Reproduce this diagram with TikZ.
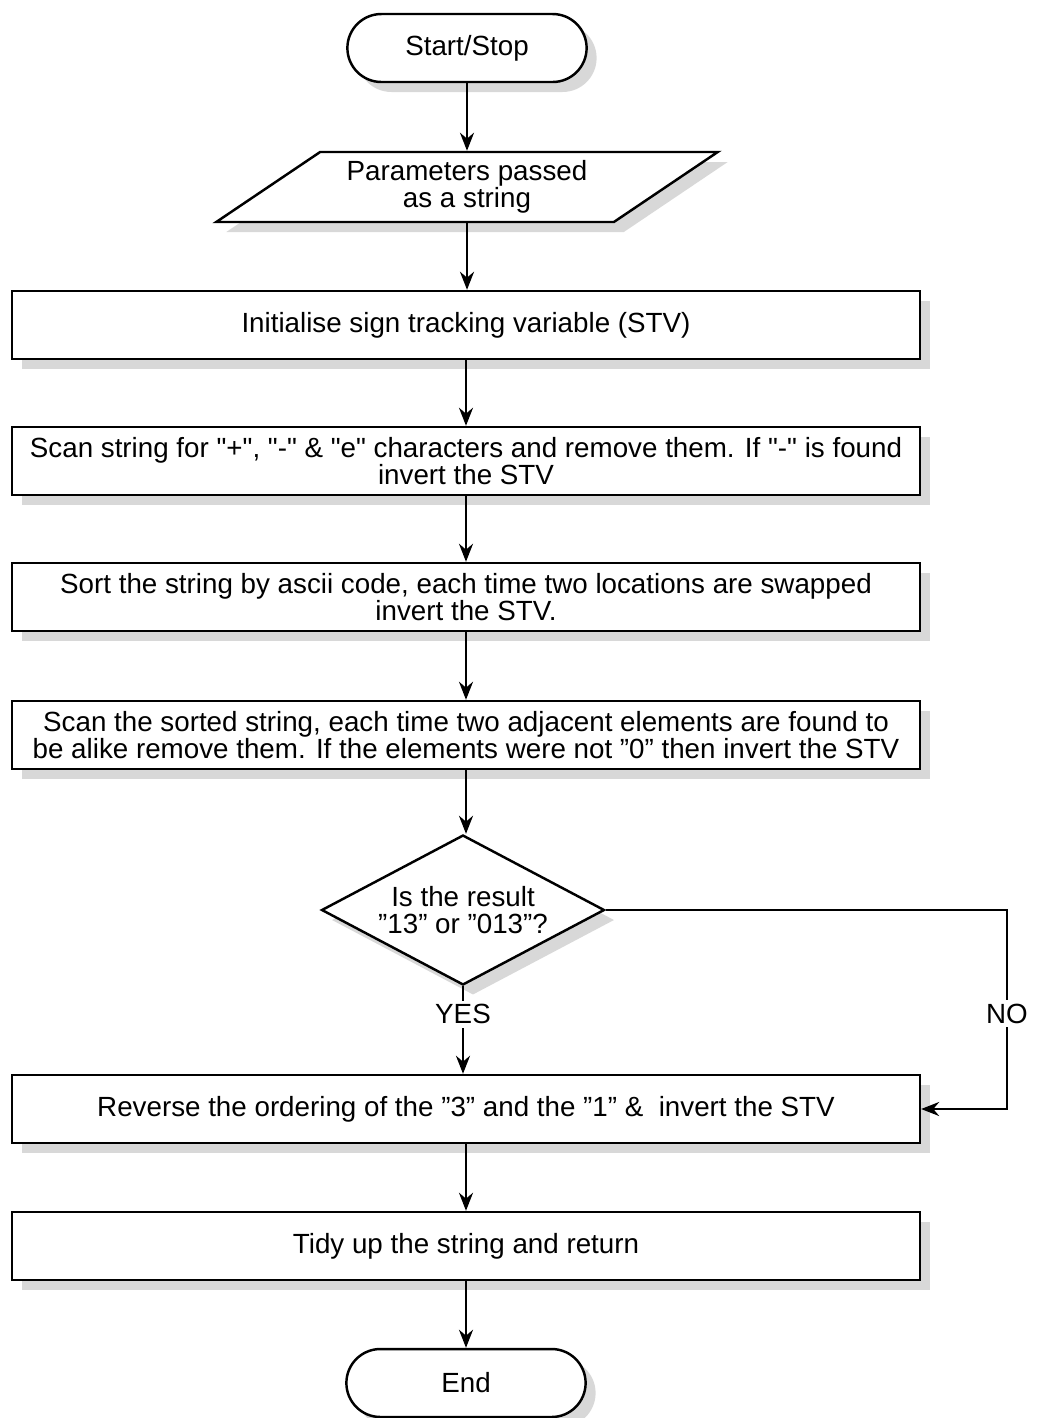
\documentclass[tikz,border=0pt]{standalone}
\usepackage{fontspec}
\setmainfont{Liberation Sans}
\usetikzlibrary{arrows.meta, shapes.geometric, shapes.misc, shadows}
\newcommand{\qq}{\textquotedbl}

\begin{document}
\begin{tikzpicture}
  [
    x=0.02cm, y=-0.02cm,
    every node/.style={font=\fontsize{15.8}{15.5}\selectfont},
    shadowed/.style={drop shadow={shadow xshift=0.2cm,shadow yshift=-0.2cm,fill=black!30}},
    box/.style={draw,line width=1.4pt,fill=white,shadowed,align=center},
    term/.style={box,rounded rectangle,minimum width=5.02cm,minimum height=1.36cm},
    io/.style={box,trapezium,trapezium left angle=36,trapezium right angle=144,
      trapezium stretches=true,minimum width=10.04cm,minimum height=1.4cm},
    proc/.style={box,rectangle,minimum width=18.16cm,minimum height=1.36cm},
    test/.style={box,diamond,aspect=1.9,minimum width=5.66cm,minimum height=3cm,inner sep=0pt},
    lbl/.style={fill=white,inner sep=2pt},
    flow/.style={line width=1.4pt,->,>={Stealth[length=0.36cm,width=0.28cm]}}
  ]
  \useasboundingbox (0,0) rectangle (1048,1418);
  % start and input
  \node[term] (start) at (467,48) {Start/Stop};
  \node[io] (param) at (467,187) {Parameters passed\\as a string};
  % processing steps
  \node[proc] (init) at (466,325) {Initialise sign tracking variable (STV)};
  \node[proc] (scan) at (466,461)
    {Scan string for \qq+\qq, \qq-\qq\ \& \qq e\qq\ characters and remove them. If \qq-\qq\ is found\\invert the STV};
  \node[proc] (sort) at (466,597)
    {Sort the string by ascii code, each time two locations are swapped\\invert the STV.};
  \node[proc] (pairs) at (466,735)
    {Scan the sorted string, each time two adjacent elements are found to\\be alike remove them. If the elements were not ”0” then invert the STV};
  % decision
  \node[test] (result) at (463,910) {Is the result\\”13” or ”013”?};
  \coordinate (noturn) at (1007,1109);
  % final steps
  \node[proc] (swap) at (466,1109) {Reverse the ordering of the ”3” and the ”1” \&\ \ invert the STV};
  \node[proc] (tidy) at (466,1246) {Tidy up the string and return};
  \node[term] (finish) at (466,1383) {End};
  % edges
  \draw[flow] (start.south) -- (start.south |- param.north);
  \draw[flow] (param.south) -- (param.south |- init.north);
  \draw[flow] (init.south) -- (init.south |- scan.north);
  \draw[flow] (scan.south) -- (scan.south |- sort.north);
  \draw[flow] (sort.south) -- (sort.south |- pairs.north);
  \draw[flow] (pairs.south) -- (pairs.south |- result.north);
  \draw[flow] (result.south) -- node[lbl,pos=0.32] {YES} (result.south |- swap.north);
  \draw[flow] (result.east) -| node[lbl,pos=0.76] {NO} (noturn) -- (swap.east);
  \draw[flow] (swap.south) -- (swap.south |- tidy.north);
  \draw[flow] (tidy.south) -- (tidy.south |- finish.north);
\end{tikzpicture}
\end{document}
